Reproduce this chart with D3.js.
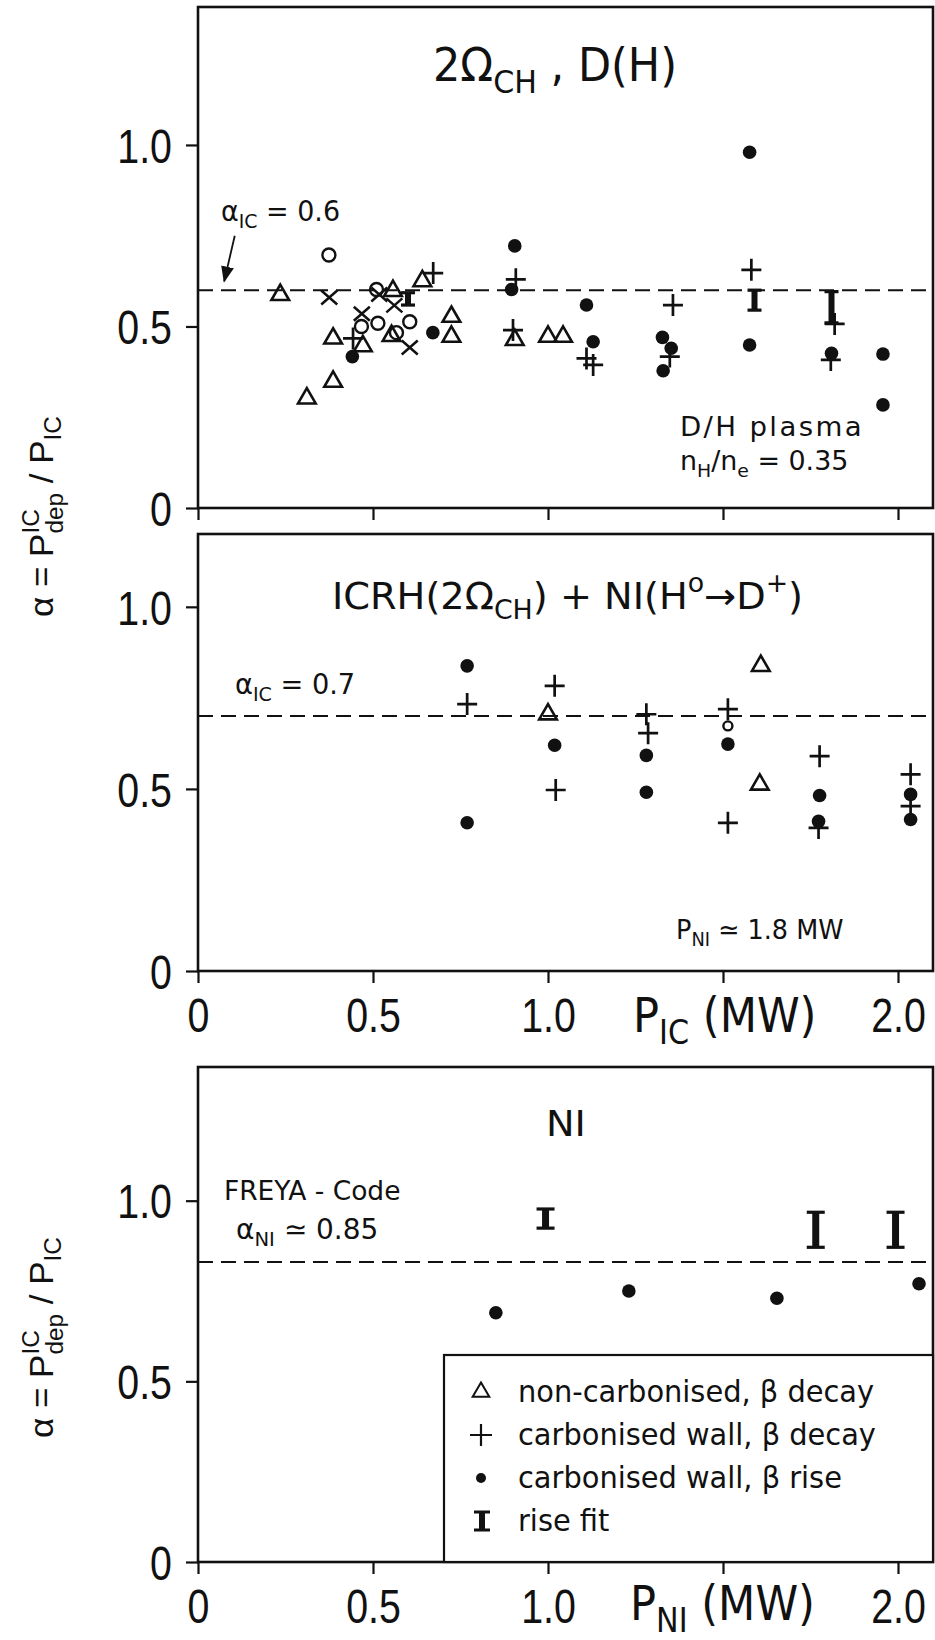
<!DOCTYPE html>
<html>
<head>
<meta charset="utf-8">
<title>alpha vs P</title>
<script src="https://cdnjs.cloudflare.com/ajax/libs/d3/7.8.5/d3.min.js"></script>
<style>
  body { margin: 0; background: #fff; }
  text { fill: #111; }
</style>
</head>
<body>
<script>
// ---- axis ticks ----
const xTicks = [0, 0.5, 1.0, 1.5, 2.0];
const xTickLabels = ["0", "0.5", "1.0", "", "2.0"];
const yTicks = [0, 0.5, 1.0];
const yTickLabels = ["0", "0.5", "1.0"];

// ---- panel 1 : 2Ω_CH , D(H) ----
const p1Alpha = 0.6;
const p1Triangles = [[0.235, 0.587], [0.557, 0.598], [0.641, 0.625], [0.386, 0.467], [0.471, 0.446],
  [0.553, 0.474], [0.724, 0.527], [0.724, 0.472], [0.386, 0.348], [0.311, 0.302], [0.905, 0.463],
  [1.0, 0.472], [1.043, 0.472]];
const p1Plus = [[0.443, 0.467], [0.672, 0.647], [0.908, 0.63], [0.9, 0.49], [1.11, 0.412], [1.129, 0.394],
  [1.357, 0.559], [1.348, 0.417], [1.581, 0.656], [1.819, 0.507], [1.808, 0.408]];
const p1Dots = [[0.441, 0.417], [0.671, 0.483], [0.905, 0.722], [0.896, 0.602], [1.11, 0.559], [1.129, 0.458],
  [1.327, 0.47], [1.352, 0.44], [1.329, 0.378], [1.576, 0.98], [1.576, 0.449], [1.81, 0.426],
  [1.957, 0.424], [1.957, 0.284]];
const p1Circles = [[0.374, 0.697], [0.51, 0.602], [0.514, 0.509], [0.605, 0.513], [0.467, 0.5], [0.567, 0.483]];
const p1Crosses = [[0.375, 0.58], [0.468, 0.535], [0.518, 0.588], [0.561, 0.558], [0.605, 0.442]];
const p1RiseFit = [[0.6, 0.559, 0.593], [1.59, 0.545, 0.60], [1.81, 0.51, 0.596]];

// ---- panel 2 : ICRH(2Ω_CH) + NI(H°→D+) ----
const p2Alpha = 0.7;
const p2Triangles = [[1.0, 0.705], [1.608, 0.838], [1.605, 0.512]];
const p2Plus = [[0.769, 0.733], [1.019, 0.783], [1.022, 0.497], [1.281, 0.705], [1.286, 0.653],
  [1.514, 0.719], [1.514, 0.407], [1.776, 0.59], [1.773, 0.393], [2.036, 0.54], [2.036, 0.453]];
const p2Dots = [[0.769, 0.838], [0.769, 0.407], [1.019, 0.62], [1.281, 0.592], [1.281, 0.491],
  [1.514, 0.623], [1.776, 0.482], [1.773, 0.411], [2.036, 0.485], [2.036, 0.416]];
const p2SmallCircles = [[1.514, 0.673]];

// ---- panel 3 : NI ----
const p3Alpha = 0.83;
const p3Dots = [[0.851, 0.69], [1.231, 0.75], [1.654, 0.73], [2.06, 0.77]];
const p3RiseFit = [[0.993, 0.924, 0.977], [1.765, 0.871, 0.968], [1.993, 0.871, 0.968]];

// ---- legend ----
const legendKeys = ["triangle", "plus", "dot", "rise"];
const legendLabels = ["non-carbonised, β decay", "carbonised wall, β decay", "carbonised wall, β rise", "rise fit"];

const w = 935, h = 1640;
const numFont = "'Liberation Sans', Arimo, Helvetica, sans-serif";
const txtFont = "'DejaVu Sans Condensed', 'Liberation Sans Narrow', sans-serif";
const ink = "#111";
const tickSx = 0.82;

const svg = d3.select("body").append("svg").attr("width", w).attr("height", h);
svg.append("rect").attr("width", w).attr("height", h).attr("fill", "#fff");

const xScale = d3.scaleLinear().domain([0, 2.1]).range([198, 933]);

const panels = [
  { top: 7, bottom: 508, yMax: 1.38, alpha: p1Alpha, xLabels: false },
  { top: 534, bottom: 971, yMax: 1.2, alpha: p2Alpha, xLabels: true },
  { top: 1067, bottom: 1562, yMax: 1.37, alpha: p3Alpha, xLabels: true }
];

// text with sub/superscripts, optionally stretched horizontally by sx
function rich(g, x, y, size, parts, font, sx, ls) {
  const t = g.append("text").attr("transform", `translate(${x},${y}) scale(${sx || 1},1)`)
    .attr("font-size", size).attr("font-family", font);
  if (ls) t.attr("letter-spacing", ls);
  let shift = 0;
  parts.forEach(([s, k]) => {
    const target = k === "sub" ? 0.26 * size : k === "sup" ? -0.45 * size : 0;
    t.append("tspan").attr("dy", target - shift).attr("font-size", k ? size * 0.7 : size).text(s);
    shift = target;
  });
  return t;
}

function drawMarks(g, y, type, data, opt) {
  opt = opt || {};
  const sel = g.append("g").selectAll(null).data(data).enter();
  if (type === "dot") {
    sel.append("circle").attr("cx", d => xScale(d[0])).attr("cy", d => y(d[1]))
      .attr("r", opt.r || 6.8).attr("fill", ink);
  } else if (type === "circle") {
    sel.append("circle").attr("cx", d => xScale(d[0])).attr("cy", d => y(d[1]))
      .attr("r", opt.r || 6.5).attr("fill", "none").attr("stroke", ink).attr("stroke-width", 2.4);
  } else if (type === "triangle") {
    sel.append("path").attr("d", d3.symbol(d3.symbolTriangle, 135)())
      .attr("transform", d => `translate(${xScale(d[0])},${y(d[1])})`)
      .attr("fill", "none").attr("stroke", ink).attr("stroke-width", 2.6);
  } else if (type === "plus") {
    sel.append("path").attr("d", "M-10,0H10M0,-11V11")
      .attr("transform", d => `translate(${xScale(d[0])},${y(d[1])})`)
      .attr("stroke", ink).attr("stroke-width", 2.7);
  } else if (type === "cross") {
    sel.append("path").attr("d", "M-8,-7L8,7M-8,7L8,-7")
      .attr("transform", d => `translate(${xScale(d[0])},${y(d[1])})`)
      .attr("stroke", ink).attr("stroke-width", 2.5);
  } else if (type === "rise") {
    const cw = opt.cap || 8;
    const gg = sel.append("g");
    gg.append("line").attr("x1", d => xScale(d[0])).attr("x2", d => xScale(d[0]))
      .attr("y1", d => y(d[1])).attr("y2", d => y(d[2])).attr("stroke", ink).attr("stroke-width", opt.bar || 6);
    gg.append("line").attr("x1", d => xScale(d[0]) - cw).attr("x2", d => xScale(d[0]) + cw)
      .attr("y1", d => y(d[1])).attr("y2", d => y(d[1])).attr("stroke", ink).attr("stroke-width", 3.2);
    gg.append("line").attr("x1", d => xScale(d[0]) - cw).attr("x2", d => xScale(d[0]) + cw)
      .attr("y1", d => y(d[2])).attr("y2", d => y(d[2])).attr("stroke", ink).attr("stroke-width", 3.2);
  }
}

const yScales = panels.map(cfg => {
  const y = d3.scaleLinear().domain([0, cfg.yMax]).range([cfg.bottom, cfg.top]);
  const g = svg.append("g");

  g.append("line").attr("x1", xScale(0)).attr("x2", xScale(2.1))
    .attr("y1", y(cfg.alpha)).attr("y2", y(cfg.alpha))
    .attr("stroke", ink).attr("stroke-width", 2).attr("stroke-dasharray", "15,8");

  const yAxis = d3.axisLeft(y).tickValues(yTicks).tickSize(12).tickPadding(14)
    .tickFormat((d, i) => yTickLabels[i]);
  g.append("g").attr("transform", `translate(${xScale(0)},0)`).call(yAxis)
    .call(s => {
      s.select(".domain").remove();
      s.selectAll("line").attr("stroke", ink).attr("stroke-width", 2.2);
      s.selectAll("text").attr("font-size", 48).attr("font-family", numFont).attr("fill", ink)
        .attr("dy", "0.36em").attr("x", -26 / tickSx).attr("transform", `scale(${tickSx},1)`);
    });

  const xAxis = d3.axisBottom(xScale).tickValues(xTicks).tickSize(12).tickPadding(15)
    .tickFormat((d, i) => cfg.xLabels ? xTickLabels[i] : "");
  g.append("g").attr("transform", `translate(0,${cfg.bottom})`).call(xAxis)
    .call(s => {
      s.select(".domain").remove();
      s.selectAll("line").attr("stroke", ink).attr("stroke-width", 2.2);
      s.selectAll("text").attr("font-size", 48).attr("font-family", numFont).attr("fill", ink)
        .attr("transform", `scale(${tickSx},1)`);
    });

  g.append("rect").attr("x", xScale(0)).attr("y", cfg.top)
    .attr("width", xScale(2.1) - xScale(0)).attr("height", cfg.bottom - cfg.top)
    .attr("fill", "none").attr("stroke", ink).attr("stroke-width", 2.6);
  return y;
});

const [y1, y2, y3] = yScales;
const g1 = svg.append("g"), g2 = svg.append("g"), g3 = svg.append("g");

// panel 1 marks
drawMarks(g1, y1, "triangle", p1Triangles);
drawMarks(g1, y1, "circle", p1Circles);
drawMarks(g1, y1, "cross", p1Crosses);
drawMarks(g1, y1, "plus", p1Plus);
drawMarks(g1, y1, "dot", p1Dots);
drawMarks(g1, y1, "rise", p1RiseFit, { cap: 7, bar: 6 });

// panel 2 marks
drawMarks(g2, y2, "triangle", p2Triangles);
drawMarks(g2, y2, "plus", p2Plus);
drawMarks(g2, y2, "dot", p2Dots);
drawMarks(g2, y2, "circle", p2SmallCircles, { r: 4.5 });

// panel 3 marks
drawMarks(g3, y3, "dot", p3Dots);
drawMarks(g3, y3, "rise", p3RiseFit, { cap: 9, bar: 7 });

// titles
rich(g1, 433, 81, 46, [["2Ω", ""], ["CH", "sub"], [" , D(H)", ""]], txtFont, 1.04);
rich(g2, 332, 609, 37, [["ICRH(2Ω", ""], ["CH", "sub"], [") + NI(H", ""], ["o", "sup"], ["→D", ""], ["+", "sup"], [")", ""]], txtFont, 1.15);
rich(g3, 546, 1136, 36, [["NI", ""]], txtFont, 1.18);

// annotations
rich(g1, 221, 221, 28, [["α", ""], ["IC", "sub"], [" = 0.6", ""]], txtFont, 1.07);
svg.append("defs").append("marker").attr("id", "ah").attr("viewBox", "0 0 10 10")
  .attr("refX", 9).attr("refY", 5).attr("markerWidth", 9).attr("markerHeight", 9).attr("orient", "auto")
  .append("path").attr("d", "M0,1L10,5L0,9Z").attr("fill", ink);
g1.append("line").attr("x1", xScale(0.105)).attr("y1", y1(0.75)).attr("x2", xScale(0.075)).attr("y2", y1(0.625))
  .attr("stroke", ink).attr("stroke-width", 1.8).attr("marker-end", "url(#ah)");
rich(g1, 680, 436, 26, [["D/H  plasma", ""]], txtFont, 1.18, 2);
rich(g1, 680, 470, 26, [["n", ""], ["H", "sub"], ["/n", ""], ["e", "sub"], [" = 0.35", ""]], txtFont, 1.15);

rich(g2, 235, 694, 28, [["α", ""], ["IC", "sub"], [" = 0.7", ""]], txtFont, 1.08);
rich(g2, 676, 939, 27, [["P", ""], ["NI", "sub"], [" ≃ 1.8 MW", ""]], txtFont, 1.05);

rich(g3, 224, 1200, 27, [["FREYA - Code", ""]], txtFont, 1.09);
rich(g3, 236, 1239, 28, [["α", ""], ["NI", "sub"], [" ≃ 0.85", ""]], txtFont, 1.11);

// x axis titles
rich(svg, 633, 1032, 48, [["P", ""], ["IC", "sub"], [" (MW)", ""]], txtFont);
rich(svg, 630, 1620, 48, [["P", ""], ["NI", "sub"], [" (MW)", ""]], txtFont);

// y axis titles (rotated, reading upward)
function yTitle(by) {
  const g = svg.append("g").attr("transform", `translate(53,${by}) rotate(-90) scale(1.06,1)`);
  const t = g.append("text").attr("font-size", 33).attr("font-family", numFont);
  t.append("tspan").text("α = P");
  const sup = t.append("tspan").attr("dy", -14).attr("font-size", 23).text("IC");
  const len = sup.node().getComputedTextLength();
  t.append("tspan").attr("dx", -len).attr("dy", 24).attr("font-size", 23).text("dep");
  t.append("tspan").attr("dy", -10).text(" / P");
  t.append("tspan").attr("dy", 8).attr("font-size", 23).text("IC");
}
yTitle(617);
yTitle(1438);

// legend
const lg = svg.append("g");
lg.append("rect").attr("x", 444).attr("y", 1355).attr("width", 933 - 444).attr("height", 1562 - 1355)
  .attr("fill", "#fff").attr("stroke", ink).attr("stroke-width", 2.2);
const rowY = d3.scalePoint().domain(legendKeys).range([1392, 1521]);
legendKeys.forEach((k, i) => {
  const cy = rowY(k);
  if (k === "triangle") {
    lg.append("path").attr("d", d3.symbol(d3.symbolTriangle, 120)()).attr("transform", `translate(481,${cy})`)
      .attr("fill", "none").attr("stroke", ink).attr("stroke-width", 2);
  } else if (k === "plus") {
    lg.append("path").attr("d", "M-11,0H11M0,-11V11").attr("transform", `translate(481,${cy})`)
      .attr("stroke", ink).attr("stroke-width", 2.2);
  } else if (k === "dot") {
    lg.append("circle").attr("cx", 481).attr("cy", cy).attr("r", 5).attr("fill", ink);
  } else {
    lg.append("path").attr("d", "M-8,-9H8M-8,9H8").attr("transform", `translate(482,${cy})`)
      .attr("stroke", ink).attr("stroke-width", 3);
    lg.append("line").attr("x1", 482).attr("x2", 482).attr("y1", cy - 9).attr("y2", cy + 9)
      .attr("stroke", ink).attr("stroke-width", 6);
  }
  rich(lg, 518, cy + 10, 30, [[legendLabels[i], ""]], txtFont, 1.07);
});
</script>
</body>
</html>
